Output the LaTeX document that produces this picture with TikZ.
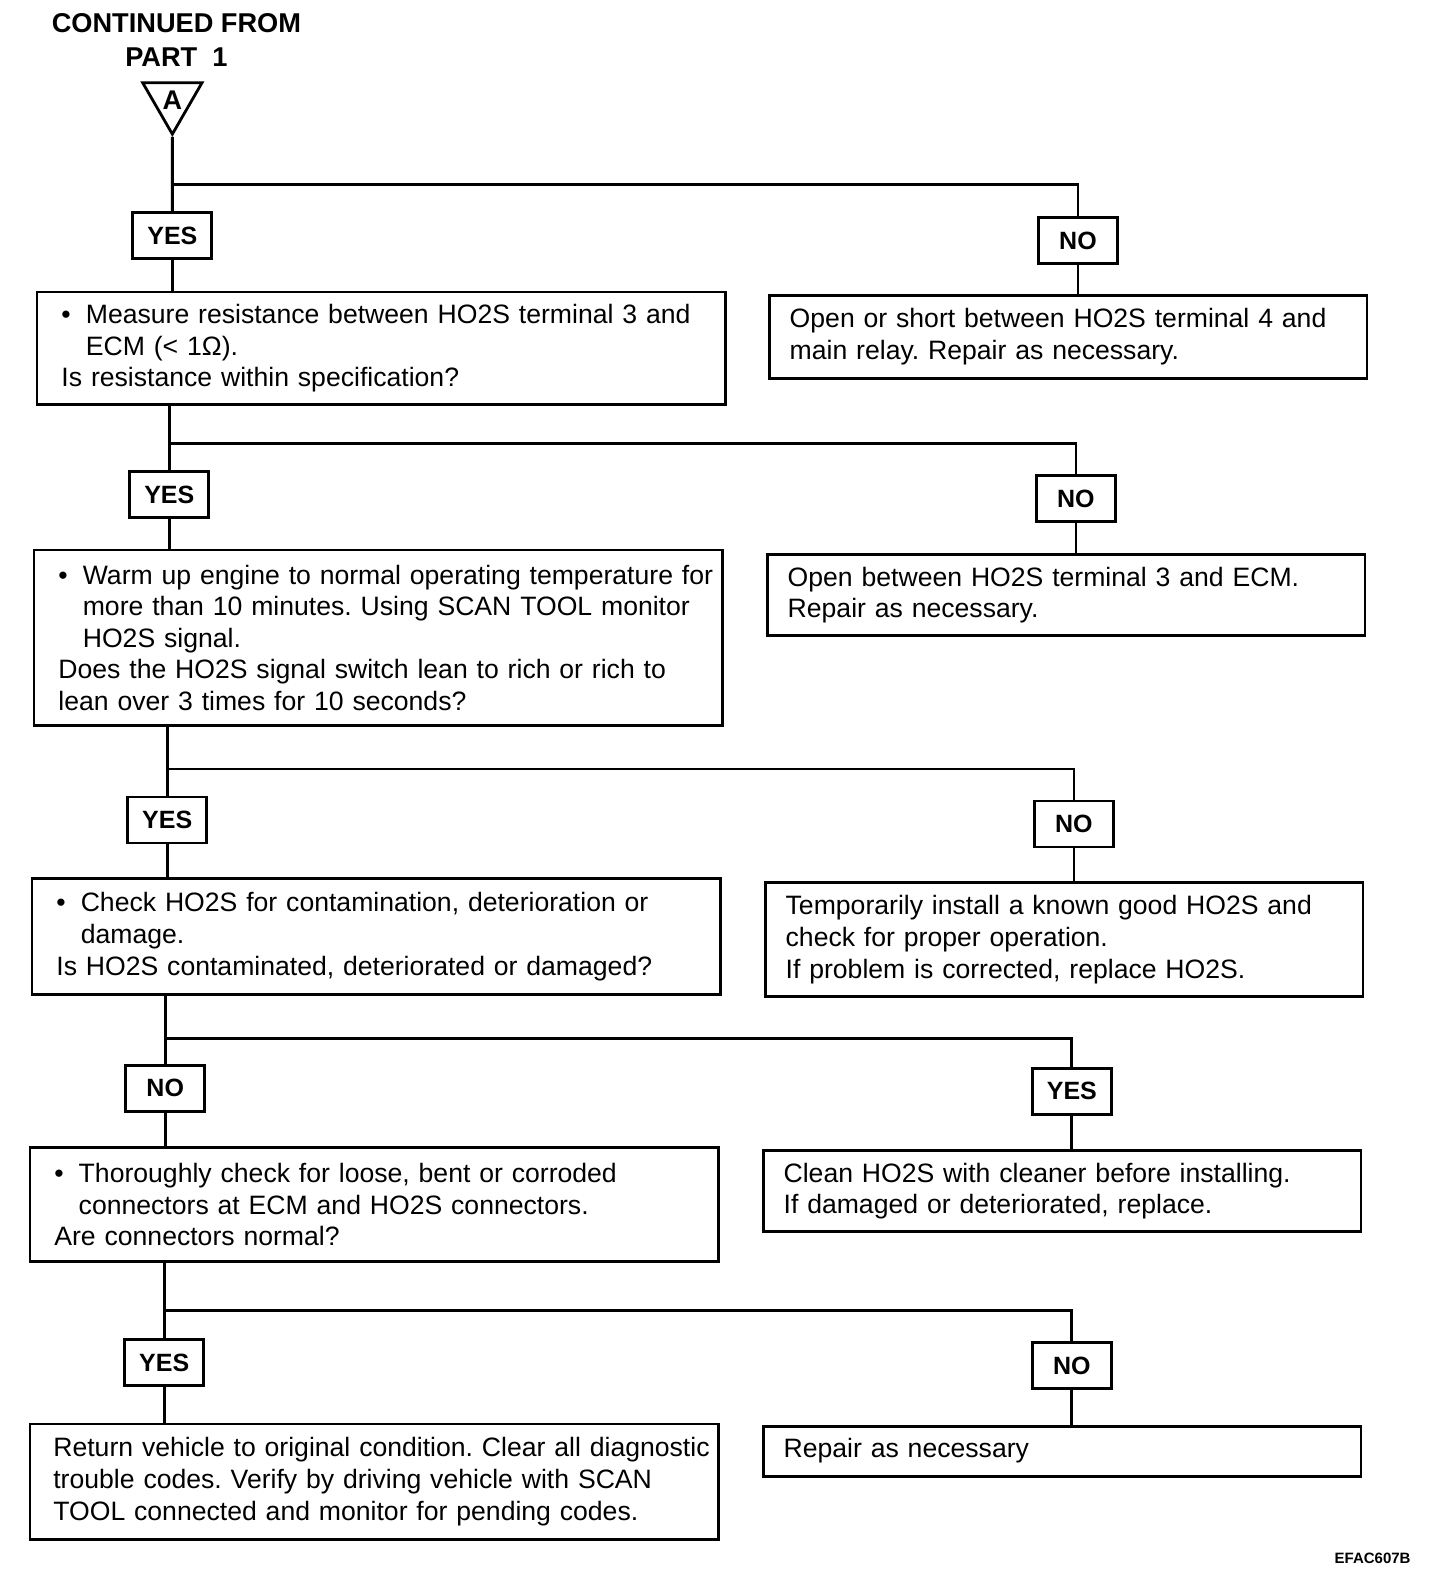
\documentclass[tikz,border=0pt]{standalone}
\usepackage{fontspec}
\setmainfont{Liberation Sans}
\usetikzlibrary{shapes.geometric}
\frenchspacing

\newcommand{\bodytext}{\fontsize{13.3}{15.8}\selectfont}
\newcommand{\bul}{\makebox[12.2pt][l]{\textbullet}}
\newcommand{\ind}{\hspace*{12.2pt}}

\tikzset{
  stepbox/.style={draw, line width=1.4pt, rectangle, anchor=north west,
    inner sep=0pt, align=left, font=\bodytext,
    execute at begin node={\leftskip=#1\rightskip=-8pt plus 1fil\relax}},
  leftcol/.style={text width=344.3pt},
  rightcol/.style={text width=298.9pt},
  answer/.style={draw, line width=1.4pt, inner sep=0pt,
    minimum width=39.5pt, minimum height=23pt,
    font=\fontsize{12.5}{14}\selectfont\bfseries},
  link/.style={line width=1.4pt},
  title/.style={align=center, font=\fontsize{13.6}{17}\selectfont\bfseries},
  tri/.style={draw, line width=1.4pt, regular polygon, regular polygon sides=3,
    shape border rotate=180, minimum size=34.2pt, inner sep=0pt,
    font=\fontsize{13.5}{14}\selectfont\bfseries},
}

\begin{document}
\begin{tikzpicture}[x=0.51pt, y=-0.51pt]
\useasboundingbox (0,0) rectangle (1412,1563);

% start
\node[title] (cont) at (173,39) {CONTINUED FROM\\PART\ \ 1};
\node[tri] (a) at (169,98) {A};

% row 1
\coordinate (j1) at (169,181);
\node[answer] (y1) at (169,231) {YES};
\node[answer] (n1) at (1057,236) {NO};
\node[stepbox=12.2pt, leftcol, minimum height=56.1pt] (b1) at (35,285)
  {\bul Measure resistance between HO2S terminal 3 and\\
   \ind ECM (< 1Ω).\\
   Is resistance within specification?};
\node[stepbox=10.2pt, rightcol, minimum height=41.8pt] (r1) at (753,288)
  {Open or short between HO2S terminal 4 and\\
   main relay. Repair as necessary.};
\draw[link] (a.south) -- (y1.north);
\draw[link] (j1) -| (n1.north);
\draw[link] (y1.south) -- (y1.south |- b1.north);
\draw[link] (n1.south) -- (n1.south |- r1.north);

% row 2
\coordinate (j2) at (166,435);
\node[answer] (y2) at (166,485) {YES};
\node[answer] (n2) at (1055,489) {NO};
\node[stepbox=12.2pt, leftcol, minimum height=87.7pt] (b2) at (32,538)
  {\bul Warm up engine to normal operating temperature for\\
   \ind more than 10 minutes. Using SCAN TOOL monitor\\
   \ind HO2S signal.\\
   Does the HO2S signal switch lean to rich or rich to\\
   lean over 3 times for 10 seconds?};
\node[stepbox=10.2pt, rightcol, minimum height=40.8pt] (r2) at (751,542)
  {Open between HO2S terminal 3 and ECM.\\
   Repair as necessary.};
\draw[link] (y2.north |- b1.south) -- (y2.north);
\draw[link] (j2) -| (n2.north);
\draw[link] (y2.south) -- (y2.south |- b2.north);
\draw[link] (n2.south) -- (n2.south |- r2.north);

% row 3
\coordinate (j3) at (164,754);
\node[answer] (y3) at (164,804) {YES};
\node[answer] (n3) at (1053,808) {NO};
\node[stepbox=12.2pt, leftcol, minimum height=58.1pt] (b3) at (30,860)
  {\bul Check HO2S for contamination, deterioration or\\
   \ind damage.\\
   Is HO2S contaminated, deteriorated or damaged?};
\node[stepbox=10.2pt, rightcol, minimum height=57.1pt] (r3) at (749,864)
  {Temporarily install a known good HO2S and\\
   check for proper operation.\\
   If problem is corrected, replace HO2S.};
\draw[link] (y3.north |- b2.south) -- (y3.north);
\draw[link] (j3) -| (n3.north);
\draw[link] (y3.south) -- (y3.south |- b3.north);
\draw[link] (n3.south) -- (n3.south |- r3.north);

% row 4
\coordinate (j4) at (162,1018);
\node[answer] (y4) at (162,1067) {NO};
\node[answer] (n4) at (1051,1070) {YES};
\node[stepbox=12.2pt, leftcol, minimum height=57.1pt] (b4) at (28,1124)
  {\bul Thoroughly check for loose, bent or corroded\\
   \ind connectors at ECM and HO2S connectors.\\
   Are connectors normal?};
\node[stepbox=10.2pt, rightcol, minimum height=40.3pt] (r4) at (747,1127)
  {Clean HO2S with cleaner before installing.\\
   If damaged or deteriorated, replace.};
\draw[link] (y4.north |- b3.south) -- (y4.north);
\draw[link] (j4) -| (n4.north);
\draw[link] (y4.south) -- (y4.south |- b4.north);
\draw[link] (n4.south) -- (n4.south |- r4.north);

% row 5
\coordinate (j5) at (161,1285);
\node[answer] (y5) at (161,1336) {YES};
\node[answer] (n5) at (1051,1339) {NO};
\node[stepbox=11.7pt, leftcol, minimum height=57.6pt] (b5) at (28,1395)
  {Return vehicle to original condition. Clear all diagnostic\\
   trouble codes. Verify by driving vehicle with SCAN\\
   TOOL connected and monitor for pending codes.};
\node[stepbox=10.2pt, rightcol, minimum height=25pt] (r5) at (747,1397)
  {Repair as necessary};
\draw[link] (y5.north |- b4.south) -- (y5.north);
\draw[link] (j5) -| (n5.north);
\draw[link] (y5.south) -- (y5.south |- b5.north);
\draw[link] (n5.south) -- (n5.south |- r5.north);

\node[anchor=east, font=\fontsize{7.5}{9}\selectfont\bfseries] (code) at (1390,1528) {EFAC607B};
\end{tikzpicture}
\end{document}
